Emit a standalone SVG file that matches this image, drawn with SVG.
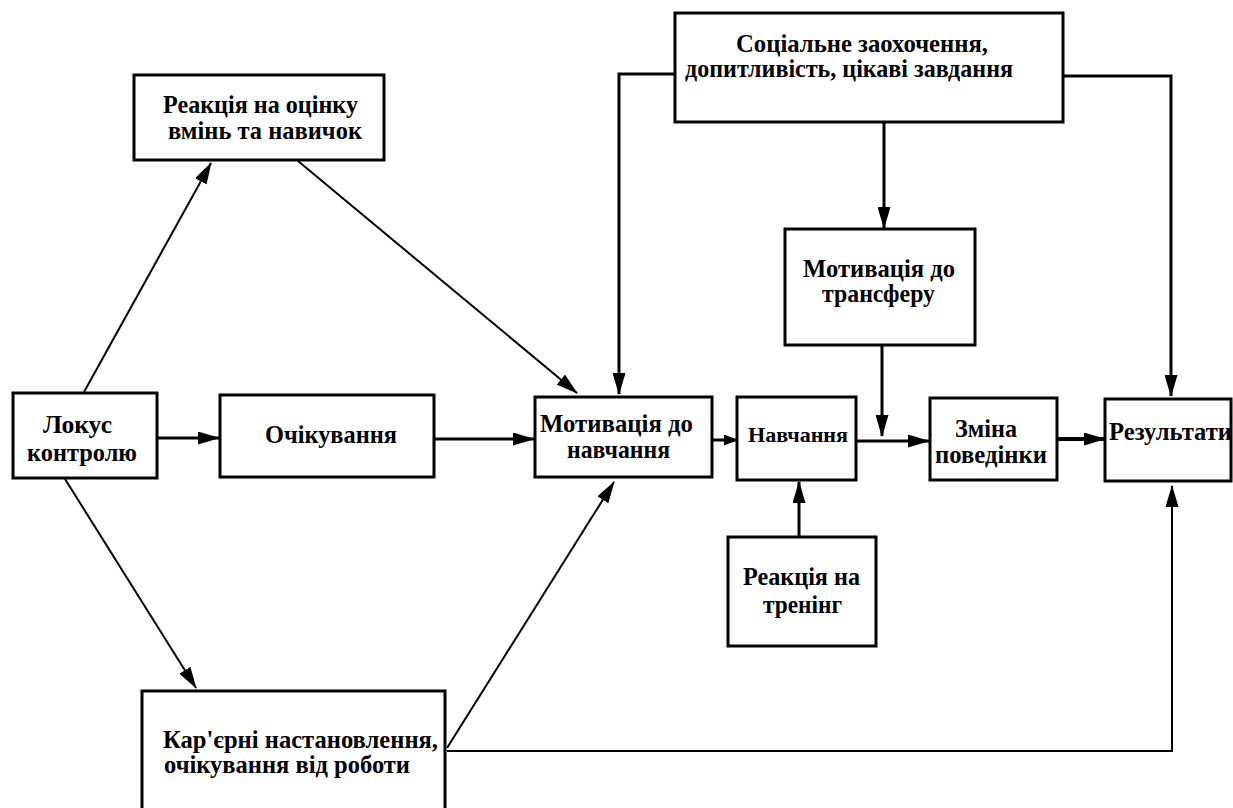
<svg xmlns="http://www.w3.org/2000/svg" width="1233" height="808" viewBox="0 0 1233 808">
<style>
.box{fill:#fff;stroke:#000;stroke-width:3}
.t{font-family:'Liberation Serif','Times New Roman',serif;font-weight:700;font-size:24.5px;fill:#000;text-anchor:middle}
.l{text-anchor:start}
.c{fill:none;stroke:#000;stroke-width:2}
.w{stroke-width:3}
</style>
<defs>
<marker id="ah" markerUnits="userSpaceOnUse" markerWidth="22" markerHeight="13" refX="21" refY="6.5" orient="auto">
<path d="M0,0 L22,6.5 L0,13 z" fill="#000"/>
</marker>
<marker id="ahs" markerUnits="userSpaceOnUse" markerWidth="14" markerHeight="11" refX="13" refY="5.5" orient="auto">
<path d="M0,0 L14,5.5 L0,11 z" fill="#000"/>
</marker>
</defs>
<rect width="1233" height="808" fill="#fff"/>
<g id="connectors">
<path class="c" d="M84,392 L211,163" marker-end="url(#ah)"/>
<path class="c" d="M298,161 L577,393" marker-end="url(#ah)"/>
<path class="c w" d="M157,438 L219,438" marker-end="url(#ah)"/>
<path class="c w" d="M434,439 L534,439" marker-end="url(#ah)"/>
<path class="c" d="M65,479 L196,688" marker-end="url(#ah)"/>
<path class="c" d="M447,748 L614,482" marker-end="url(#ah)"/>
<path class="c" d="M447,751 H1172 V486" marker-end="url(#ah)"/>
<path class="c w" d="M675,74 H619 V394" marker-end="url(#ah)"/>
<path class="c w" d="M1063,76 H1171 V396" marker-end="url(#ah)"/>
<path class="c w" d="M884,122 V228" marker-end="url(#ah)"/>
<path class="c w" d="M882,345 V436" marker-end="url(#ah)"/>
<path class="c w" d="M712,440 H737" marker-end="url(#ahs)"/>
<path class="c w" d="M856,441 H929" marker-end="url(#ah)"/>
<path class="c" style="stroke-width:4" d="M1057,439 H1105" marker-end="url(#ah)"/>
<path class="c w" d="M799,537 V482" marker-end="url(#ah)"/>
</g>
<g id="reaction-assessment">
<rect class="box" x="134" y="75" width="250" height="85"/>
<text class="t" x="260.5" y="113" textLength="195" lengthAdjust="spacingAndGlyphs">Реакція на оцінку</text>
<text class="t" x="265" y="139" textLength="194" lengthAdjust="spacingAndGlyphs">вмінь та навичок</text>
</g>
<g id="locus">
<rect class="box" x="13" y="393" width="144" height="85"/>
<text class="t" x="77.5" y="433" textLength="69" lengthAdjust="spacingAndGlyphs">Локус</text>
<text class="t" x="82" y="461" textLength="110" lengthAdjust="spacingAndGlyphs">контролю</text>
</g>
<g id="expectations">
<rect class="box" x="220" y="395" width="214" height="82"/>
<text class="t" x="331" y="443" textLength="132" lengthAdjust="spacingAndGlyphs">Очікування</text>
</g>
<g id="motivation-learning">
<rect class="box" x="535" y="397" width="177" height="80"/>
<text class="t" x="616.5" y="432" textLength="153" lengthAdjust="spacingAndGlyphs">Мотивація до</text>
<text class="t" x="618.5" y="458" textLength="103" lengthAdjust="spacingAndGlyphs">навчання</text>
</g>
<g id="social">
<rect class="box" x="675" y="13" width="388" height="109"/>
<text class="t" x="862" y="52" textLength="252" lengthAdjust="spacingAndGlyphs">Соціальне заохочення,</text>
<text class="t" x="849" y="77" textLength="328" lengthAdjust="spacingAndGlyphs">допитливість, цікаві завдання</text>
</g>
<g id="motivation-transfer">
<rect class="box" x="785" y="229" width="190" height="116"/>
<text class="t" x="879" y="277" textLength="152" lengthAdjust="spacingAndGlyphs">Мотивація до</text>
<text class="t" x="878.5" y="302" textLength="113" lengthAdjust="spacingAndGlyphs">трансферу</text>
</g>
<g id="learning">
<rect class="box" x="737" y="397" width="119" height="83"/>
<text class="t" x="798" y="442" style="font-size:22px" textLength="100" lengthAdjust="spacingAndGlyphs">Навчання</text>
</g>
<g id="behavior">
<rect class="box" x="930" y="398" width="127" height="82"/>
<text class="t" x="986" y="437" textLength="62" lengthAdjust="spacingAndGlyphs">Зміна</text>
<text class="t" x="991" y="463" textLength="112" lengthAdjust="spacingAndGlyphs">поведінки</text>
</g>
<g id="results">
<rect class="box" x="1105" y="399" width="126" height="82"/>
<text class="t l" x="1109" y="440" textLength="123" lengthAdjust="spacingAndGlyphs">Результати</text>
</g>
<g id="reaction-training">
<rect class="box" x="728" y="537" width="148" height="109"/>
<text class="t" x="801.5" y="585" textLength="117" lengthAdjust="spacingAndGlyphs">Реакція на</text>
<text class="t" x="802.5" y="613" textLength="79" lengthAdjust="spacingAndGlyphs">тренінг</text>
</g>
<g id="career">
<rect class="box" x="142" y="691" width="303" height="130"/>
<text class="t l" x="163" y="748" textLength="275" lengthAdjust="spacingAndGlyphs">Кар'єрні настановлення,</text>
<text class="t l" x="164" y="773" textLength="246" lengthAdjust="spacingAndGlyphs">очікування від роботи</text>
</g>
</svg>
